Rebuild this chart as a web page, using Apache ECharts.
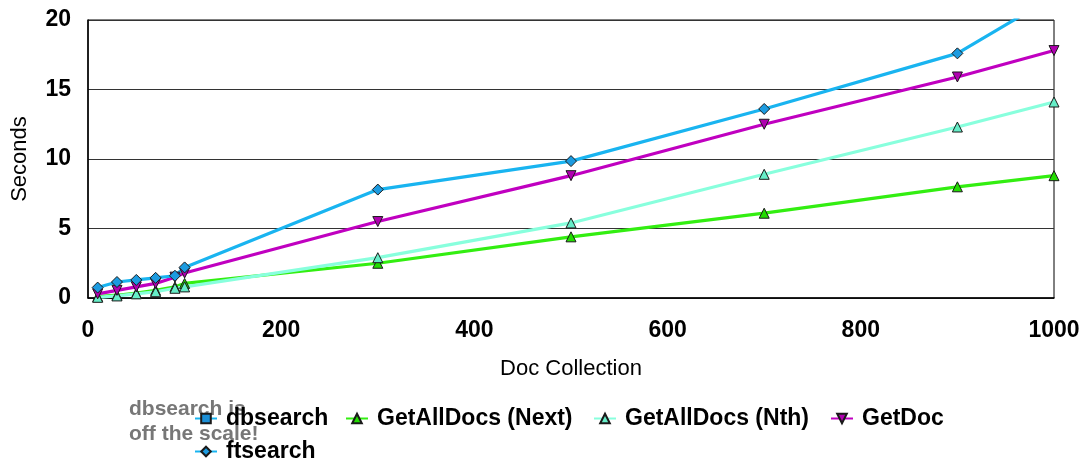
<!DOCTYPE html>
<html>
<head>
<meta charset="utf-8">
<script src="https://cdn.jsdelivr.net/npm/echarts@6/dist/echarts.min.js"></script>
<style>
html,body{margin:0;padding:0;background:#fff;}
#c{width:1087px;height:463px;}
</style>
</head>
<body>
<div id="c"></div>
<script>
var docCollection = [10, 30, 50, 70, 90, 100, 300, 500, 700, 900, 1000];
var dbsearch = [];
var getAllDocsNext = [0.1, 0.2, 0.35, 0.55, 0.8, 1.05, 2.5, 4.4, 6.1, 8.0, 8.8];
var getAllDocsNth = [0.05, 0.15, 0.3, 0.45, 0.7, 0.8, 2.9, 5.4, 8.9, 12.3, 14.1];
var getDoc = [0.3, 0.55, 0.8, 1.05, 1.5, 1.8, 5.5, 8.8, 12.5, 15.9, 17.8];
var ftsearch = [0.75, 1.15, 1.3, 1.45, 1.6, 2.2, 7.8, 9.85, 13.6, 17.6, 21.7];
var xTicks = [0, 200, 400, 600, 800, 1000];
var yTicks = [0, 5, 10, 15, 20];

function pairs(vals) {
  return vals.map(function (v, i) { return [docCollection[i], v]; });
}

var chart = echarts.init(document.getElementById('c'), null, {renderer: 'canvas'});

var legendText = {fontFamily: 'Liberation Sans, Arial, sans-serif', fontWeight: 'bold', fontSize: 23, color: '#000', padding: [0, 0, 0, 4]};
function leg(name, left, top) {
  return {
    data: [name], left: left, top: top, orient: 'horizontal',
    itemWidth: 22, itemHeight: 12, textStyle: legendText, padding: 0, selectedMode: false
  };
}

function mk(name, vals, symbol, rotate, lineColor, fill) {
  return {
    name: name, type: 'line', data: pairs(vals),
    symbol: symbol, symbolSize: symbol === 'diamond' ? [11, 11] : 10,
    symbolRotate: rotate,
    showAllSymbol: true,
    clip: true,
    lineStyle: {color: lineColor, width: 3.2},
    itemStyle: {color: fill, borderColor: '#1a1a1a', borderWidth: 1},
    emphasis: {disabled: true},
    animation: false
  };
}

chart.setOption({
  animation: false,
  grid: {left: 88, right: 33, top: 20, bottom: 165, show: true, borderColor: '#000', borderWidth: 1},
  xAxis: {
    type: 'value', min: xTicks[0], max: xTicks[xTicks.length - 1], interval: 200,
    name: 'Doc Collection', nameLocation: 'middle', nameGap: 60,
    nameTextStyle: {fontFamily: 'Liberation Sans, Arial, sans-serif', fontSize: 22, color: '#000'},
    axisLine: {show: true, lineStyle: {color: '#000', width: 1.5}},
    axisTick: {show: false},
    splitLine: {show: false},
    axisLabel: {fontFamily: 'Liberation Sans, Arial, sans-serif', fontWeight: 'bold', fontSize: 23, color: '#000', margin: 21,
      formatter: function (v) { return String(v); }}
  },
  yAxis: {
    type: 'value', min: yTicks[0], max: yTicks[yTicks.length - 1], interval: 5,
    name: 'Seconds', nameLocation: 'middle', nameGap: 57,
    nameTextStyle: {fontFamily: 'Liberation Sans, Arial, sans-serif', fontSize: 22, color: '#000'},
    axisLine: {show: true, lineStyle: {color: '#000', width: 1.5}},
    axisTick: {show: false},
    splitLine: {show: true, lineStyle: {color: '#333', width: 1}},
    axisLabel: {fontFamily: 'Liberation Sans, Arial, sans-serif', fontWeight: 'bold', fontSize: 23, color: '#000', margin: 17,
      formatter: function (v) { return String(v); }}
  },
  legend: [
    leg('dbsearch', 194, 407),
    leg('GetAllDocs (Next)', 345, 407),
    leg('GetAllDocs (Nth)', 593, 407),
    leg('GetDoc', 830, 407),
    leg('ftsearch', 194, 440)
  ],
  graphic: [
    {type: 'text', left: 129, top: 399, z: 0, style: {text: 'dbsearch is', fill: '#777', font: 'bold 21px "Liberation Sans", Arial, sans-serif'}},
    {type: 'text', left: 129, top: 424, z: 0, style: {text: 'off the scale!', fill: '#777', font: 'bold 21px "Liberation Sans", Arial, sans-serif'}}
  ],
  series: [
    mk('dbsearch', dbsearch, 'rect', 0, '#19B4F0', '#1C8FD6'),
    mk('GetAllDocs (Next)', getAllDocsNext, 'triangle', 0, '#33EE11', '#22DD00'),
    mk('GetAllDocs (Nth)', getAllDocsNth, 'triangle', 0, '#88FFDD', '#66EEC8'),
    mk('GetDoc', getDoc, 'triangle', 180, '#C000C0', '#B000B0'),
    mk('ftsearch', ftsearch, 'diamond', 0, '#19B4F0', '#1C9BE0')
  ]
});
</script>
</body>
</html>
